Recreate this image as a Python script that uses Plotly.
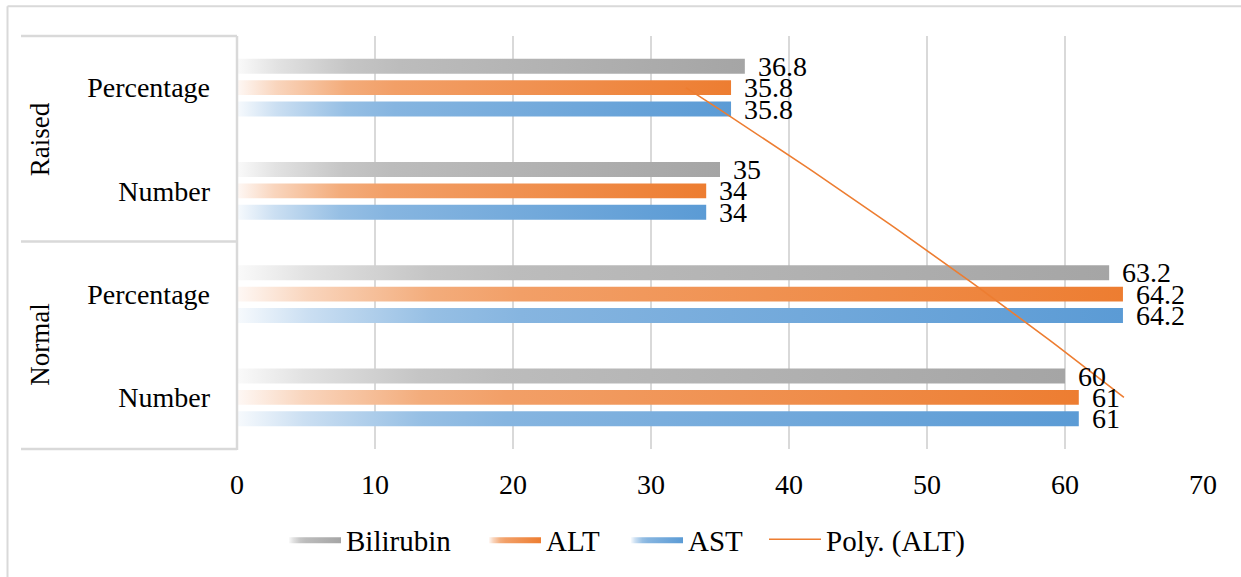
import numpy as np
import plotly.graph_objects as go

# ---- data -------------------------------------------------------------
groups = ["Normal", "Normal", "Raised", "Raised"]
measures = ["Number", "Percentage", "Number", "Percentage"]
bilirubin = [60, 63.2, 35, 36.8]
alt = [61, 64.2, 34, 35.8]
ast = [61, 64.2, 34, 35.8]
x_ticks = [0, 10, 20, 30, 40, 50, 60, 70]

# ---- geometry (pixels of the page) -----------------------------------
W, H = 1241, 577
L, R, T, B = 237, 1203, 36, 452


def px2x(p):
    return (p - L) / (R - L)


def py2y(p):
    return (B - p) / (B - T)


def tint(hex_color, k):
    """Mix a colour with white; k=1 gives the pure colour."""
    h = hex_color.lstrip("#")
    r, g, b = (int(h[i:i + 2], 16) for i in (0, 2, 4))
    mix = lambda c: round(255 - (255 - c) * k)
    return f"rgb({mix(r)},{mix(g)},{mix(b)})"


def ramp(hex_color):
    return [
        [0.0, tint(hex_color, 0.05)],
        [0.08, tint(hex_color, 0.32)],
        [0.22, tint(hex_color, 0.64)],
        [0.32, tint(hex_color, 0.74)],
        [1.0, tint(hex_color, 1.0)],
    ]


series = [
    ("Bilirubin", bilirubin, "#A5A5A5", 0.207, "legend"),
    ("ALT", alt, "#ED7D31", 0.0, "legend2"),
    ("AST", ast, "#5B9BD5", -0.207, "legend3"),
]
half = 0.072
FONT = "Liberation Serif, Times New Roman, serif"

fig = go.Figure()
annotations = []

for name, vals, color, off, leg in series:
    for i, v in enumerate(vals):
        yc = i + off
        fig.add_trace(go.Scatter(
            x=[0, v, v, 0, 0],
            y=[yc - half, yc - half, yc + half, yc + half, yc - half],
            mode="lines",
            fill="toself",
            line=dict(width=0),
            fillgradient=dict(type="horizontal", colorscale=ramp(color)),
            name=name,
            legend=leg,
            legendgroup=name,
            showlegend=(i == 0),
            hoverinfo="skip",
        ))
        annotations.append(dict(
            x=v, y=yc, xref="x", yref="y", text=f"{v:g}",
            showarrow=False, xanchor="left", yanchor="middle", xshift=11,
            font=dict(family=FONT, size=28, color="#000000"),
        ))

# polynomial (order 2) trendline of the ALT series over category index
idx = np.arange(1, len(alt) + 1)
coef = np.polyfit(idx, alt, 2)
t = np.linspace(1, len(alt), 60)
fig.add_trace(go.Scatter(
    x=np.polyval(coef, t), y=t - 1,
    mode="lines", line=dict(color="#ED7D31", width=1.6),
    name="Poly. (ALT)", legend="legend4", hoverinfo="skip",
))

# outer category labels
for text, ypix in (("Raised", 140), ("Normal", 347)):
    annotations.append(dict(
        x=px2x(40), y=py2y(ypix), xref="paper", yref="paper", text=text,
        showarrow=False, textangle=-90, xanchor="center", yanchor="middle",
        font=dict(family=FONT, size=27, color="#000000"),
    ))

grey = "#D9D9D9"
shapes = []
# category box
for ypix in (T, 243, B):
    shapes.append(dict(type="line", xref="paper", yref="paper",
                       x0=px2x(21), x1=px2x(L), y0=py2y(ypix), y1=py2y(ypix),
                       line=dict(color=grey, width=2.5)))
shapes.append(dict(type="line", xref="paper", yref="paper",
                   x0=0, x1=0, y0=py2y(T), y1=py2y(B + 1),
                   line=dict(color=grey, width=2.5)))
# chart border
shapes.append(dict(type="line", xref="paper", yref="paper",
                   x0=px2x(7.5), x1=px2x(W + 5), y0=py2y(6), y1=py2y(6),
                   line=dict(color=grey, width=2)))
shapes.append(dict(type="line", xref="paper", yref="paper",
                   x0=px2x(7.5), x1=px2x(7.5), y0=py2y(6), y1=py2y(H + 5),
                   line=dict(color=grey, width=2)))


def legend_at(xpix):
    return dict(
        orientation="h", x=px2x(xpix), xanchor="left", y=py2y(543),
        yanchor="middle", font=dict(family=FONT, size=29, color="#000000"),
        itemwidth=52, bgcolor="rgba(0,0,0,0)",
    )


fig.update_layout(
    width=W, height=H,
    margin=dict(l=L, r=W - R, t=T, b=H - B, pad=0),
    paper_bgcolor="white", plot_bgcolor="white",
    font=dict(family=FONT, size=28, color="#000000"),
    xaxis=dict(
        range=[0, 70], tickvals=x_ticks, showgrid=True, gridcolor=grey,
        gridwidth=2, zeroline=False, showline=False, ticks="",
        ticklabelstandoff=16, tickfont=dict(family=FONT, size=28),
        fixedrange=True,
    ),
    yaxis=dict(
        range=[-0.5, 3.5], tickvals=list(range(len(measures))),
        ticktext=measures, showgrid=False, zeroline=False, showline=False,
        ticks="", ticklabelstandoff=26, tickfont=dict(family=FONT, size=28),
        fixedrange=True,
    ),
    legend=legend_at(284),
    legend2=legend_at(484),
    legend3=legend_at(626),
    legend4=legend_at(764),
    annotations=annotations,
    shapes=shapes,
    showlegend=True,
)

fig.write_html("out.html")
